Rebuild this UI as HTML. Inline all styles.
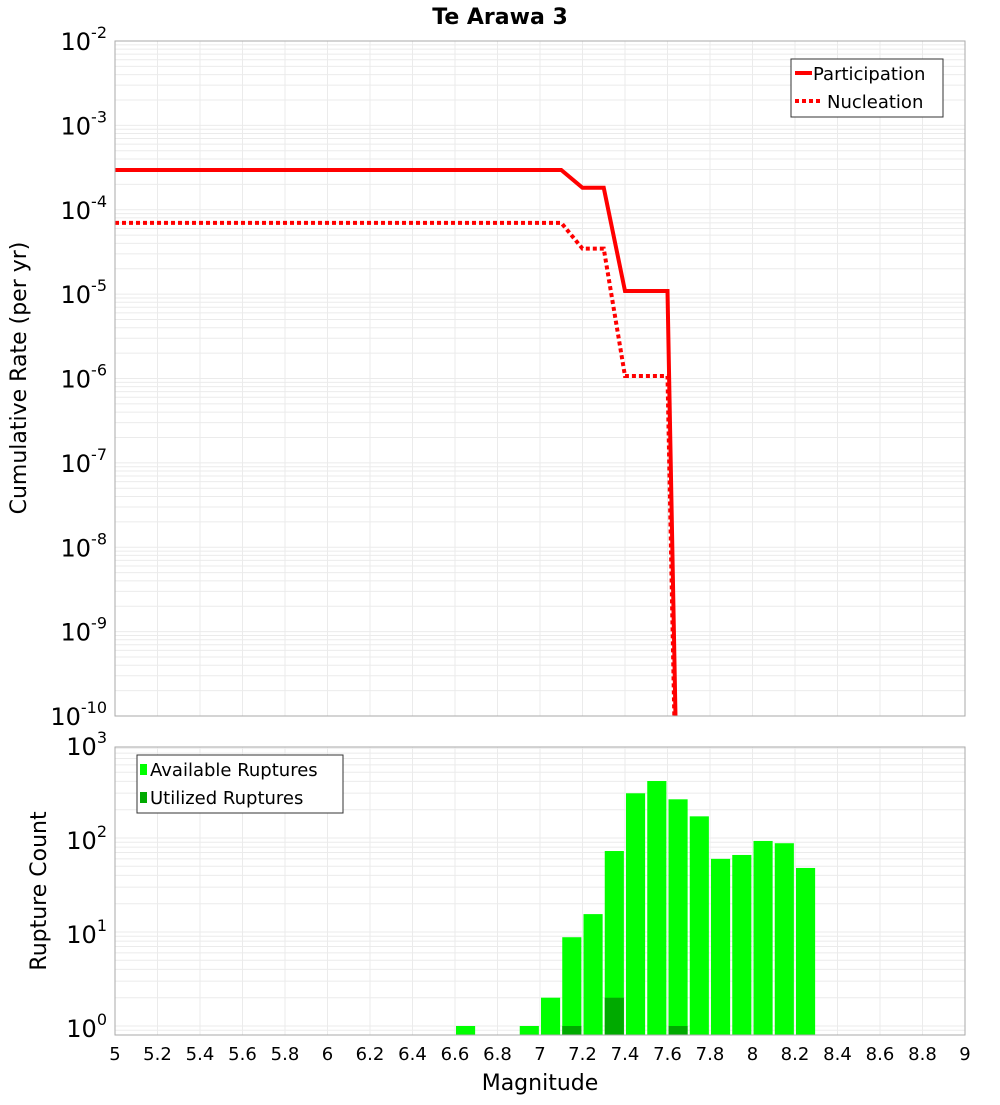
<!DOCTYPE html>
<html><head><meta charset="utf-8"><style>
body{margin:0;background:#fff;width:1000px;height:1100px;overflow:hidden}
svg{font-family:"DejaVu Sans","Liberation Sans",sans-serif}
</style></head><body>
<svg id="c" width="1000" height="1100" xmlns="http://www.w3.org/2000/svg"></svg>
<script>
const xTicks=[5,5.2,5.4,5.6,5.8,6,6.2,6.4,6.6,6.8,7,7.2,7.4,7.6,7.8,8,8.2,8.4,8.6,8.8,9];
const partM=[5,7.1,7.2,7.3,7.4,7.6,7.645];
const partV=[2.96e-4,2.96e-4,1.82e-4,1.82e-4,1.09e-5,1.09e-5,1e-11];
const nuclM=[5,7.1,7.2,7.3,7.4,7.6,7.64];
const nuclV=[7.0e-5,7.0e-5,3.46e-5,3.46e-5,1.07e-6,1.07e-6,1e-11];
const binM=[6.6,6.9,7.0,7.1,7.2,7.3,7.4,7.5,7.6,7.7,7.8,7.9,8.0,8.1,8.2];
const availCounts=[1,1,2,8.8,15.5,72.7,299,404,258,170,60,66,93,88,48];
const utilM=[7.1,7.3,7.6];
const utilCounts=[1,2,1];
const topDec=[-2,-3,-4,-5,-6,-7,-8,-9,-10];
const botDec=[0,1,2,3];

const S=document.getElementById('c'),NS='http://www.w3.org/2000/svg';
function el(t,a,p){const e=document.createElementNS(NS,t);for(const k in a)e.setAttribute(k,a[k]);(p||S).appendChild(e);return e;}
const X0=115,X1=965;
const x=m=>X0+(m-5)/4*(X1-X0);
const T0=41,T1=716;
const yT=v=>T0+(-2-Math.log10(v))*(T1-T0)/8;
const B0=747,B1=1035;
const yB=v=>1026-Math.log10(v)*94;

// title
const ti=el('text',{x:500,y:24,'text-anchor':'middle','font-size':22,'font-weight':'bold'});


ti.textContent='Te Arawa 3';

function grid(y0,y1,lo,hi,yf){
  const g=el('g',{});
  
  
  xTicks.forEach(t=>el('line',{x1:x(t),x2:x(t),y1:y0,y2:y1,stroke:'#ebebeb','stroke-width':1},g));
  for(let d=lo;d<hi;d++)for(let k=1;k<10;k++){const y=yf(k*Math.pow(10,d));if(y>=y0&&y<=y1)el('line',{x1:X0,x2:X1,y1:y,y2:y,stroke:'#ebebeb','stroke-width':1},g);}
}
grid(T0,T1,-10,-2,yT);
grid(B0,B1,-1,3,yB);

// top lines
const clip=el('clipPath',{id:'ct'});el('rect',{x:X0,y:T0,width:X1-X0,height:T1-T0},clip);
function line(ms,vs,dash,name){
  const p=el('polyline',{points:ms.map((m,i)=>x(m)+','+yT(vs[i])).join(' '),fill:'none',stroke:'#ff0000','stroke-width':4,'clip-path':'url(#ct)'});
  if(dash)p.setAttribute('stroke-dasharray','4,3');
  
  
}
line(nuclM,nuclV,true,'nucleation-line');
line(partM,partV,false,'participation-line');

// bars
const clipB=el('clipPath',{id:'cb'});el('rect',{x:X0,y:B0,width:X1-X0,height:B1-B0},clipB);
binM.forEach((m,i)=>{
  const r=el('rect',{x:x(m)+1,y:yB(availCounts[i]),width:x(m+0.09)-x(m),height:B1-yB(availCounts[i]),fill:'#00ff00','clip-path':'url(#cb)'});
  
  
});
utilM.forEach((m,i)=>{
  const r=el('rect',{x:x(m)+1,y:yB(utilCounts[i]),width:x(m+0.09)-x(m),height:B1-yB(utilCounts[i]),fill:'#00aa00','clip-path':'url(#cb)'});
  
  
});

// frames
el('rect',{x:X0,y:T0,width:X1-X0,height:T1-T0,fill:'none',stroke:'#aaa','stroke-width':1});
el('rect',{x:X0,y:B0,width:X1-X0,height:B1-B0,fill:'none',stroke:'#aaa','stroke-width':1});

// y labels
function pow(y,e,name){
  const t=el('text',{x:107,y:y,'text-anchor':'end','font-size':24});
  
  
  t.appendChild(document.createTextNode('10'));
  const s=el('tspan',{dy:-12,'font-size':16},t);s.textContent=String(e);
}
topDec.forEach(d=>pow(yT(Math.pow(10,d))+9,d,'y-tick-label'));
botDec.forEach(d=>pow(yB(Math.pow(10,d))+11,d,'y-tick-label-bottom'));

xTicks.forEach(t=>{
  const e=el('text',{x:x(t),y:1060,'text-anchor':'middle','font-size':18});
  
  
  e.textContent=String(t);
});
const xt=el('text',{x:540,y:1090,'text-anchor':'middle','font-size':22});


xt.textContent='Magnitude';
const yt=el('text',{x:0,y:0,'text-anchor':'middle','font-size':22,transform:'translate(26,378) rotate(-90)'});


yt.textContent='Cumulative Rate (per yr)';
const yb=el('text',{x:0,y:0,'text-anchor':'middle','font-size':22,transform:'translate(46,891) rotate(-90)'});


yb.textContent='Rupture Count';

// legends
const lg=el('g',{});


el('rect',{x:791,y:59,width:152,height:58,fill:'#fff',stroke:'#333','stroke-width':1},lg);
el('line',{x1:795,x2:812,y1:73,y2:73,stroke:'#f00','stroke-width':4},lg);
el('line',{x1:795,x2:822,y1:101,y2:101,stroke:'#f00','stroke-width':4,'stroke-dasharray':'4,3'},lg);
let t=el('text',{x:813,y:80,'font-size':18},lg);t.textContent='Participation';
t=el('text',{x:827,y:108,'font-size':18},lg);t.textContent='Nucleation';

const lb=el('g',{});


el('rect',{x:137,y:755,width:206,height:58,fill:'#fff',stroke:'#333','stroke-width':1},lb);
el('rect',{x:140,y:764,width:7,height:11,fill:'#00ff00'},lb);
el('rect',{x:140,y:792,width:7,height:11,fill:'#00aa00'},lb);
t=el('text',{x:150,y:776,'font-size':18},lb);t.textContent='Available Ruptures';
t=el('text',{x:150,y:804,'font-size':18},lb);t.textContent='Utilized Ruptures';
</script>
</body></html>
